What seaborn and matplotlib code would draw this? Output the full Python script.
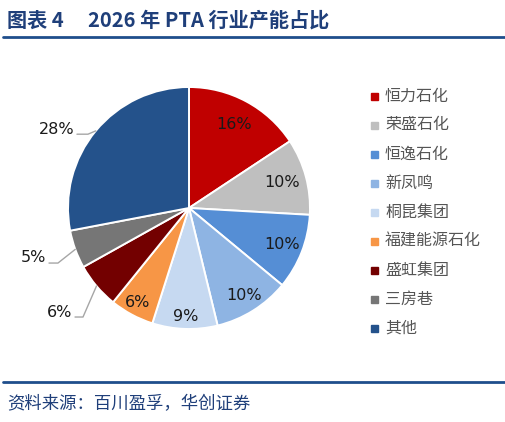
import numpy as np
import matplotlib
matplotlib.use("Agg")
import matplotlib.pyplot as plt
import seaborn as sns

categories = ["恒力石化", "荣盛石化", "恒逸石化", "新凤鸣", "桐昆集团",
              "福建能源石化", "盛虹集团", "三房巷", "其他"]
shares = [15.7, 10.2, 10.1, 10.2, 8.7, 5.9, 6.1, 5.1, 28.0]
colors = ["#C00000", "#BFBFBF", "#558ED5", "#8EB4E3", "#C6D9F1",
          "#F79646", "#730000", "#767676", "#24528B"]

title_left = "图表 4"
title_right = "2026 年 PTA 行业产能占比"
source_text = "资料来源：百川盈孚，华创证券"

sns.set_theme(style="white")
plt.rcParams["font.family"] = ["Noto Sans CJK SC", "DejaVu Sans"]

W, H = 505, 422
fig = plt.figure(figsize=(W / 100, H / 100), dpi=100)
fig.patch.set_facecolor("white")

cx, cy, R = 189, 208, 121
ax = fig.add_axes([(cx - R) / W, (H - cy - R) / H, 2 * R / W, 2 * R / H])

wedges, _ = ax.pie(shares, colors=colors, startangle=90, counterclock=False,
                   radius=1.0,
                   wedgeprops=dict(edgecolor="white", linewidth=1.4))
ax.set_xlim(-1, 1)
ax.set_ylim(-1, 1)
ax.set_aspect("equal")
ax.axis("off")

# inside label radial distances (layout)
inside_r = [0.78, 0.80, 0.83, 0.85, 0.90, 0.89]
# outside label layouts: index -> (elbow, line end x, text x, text y)
outside = {
    6: ((-0.876, -0.901), -0.942, -0.967, -0.86),
    7: ((-1.083, -0.455), -1.157, -1.18, -0.413),
    8: ((-0.835, 0.61), -0.926, -0.95, 0.645),
}
for i, (w, v) in enumerate(zip(wedges, shares)):
    mid = np.deg2rad((w.theta1 + w.theta2) / 2)
    lab = f"{v:.0f}%"
    if i < len(inside_r):
        r = inside_r[i]
        ax.text(r * np.cos(mid), r * np.sin(mid), lab, ha="center", va="center",
                fontsize=11.5, color="#1a1a1a", family=["DejaVu Sans"])
    else:
        (ex, ey), lx, tx, ty = outside[i]
        px, py = np.cos(mid), np.sin(mid)
        ax.plot([px, ex, lx], [py, ey, ey], color="#A6A6A6", lw=1.0,
                clip_on=False)
        ax.text(tx, ty, lab, ha="right", va="center", fontsize=11.5,
                color="#1a1a1a", family=["DejaVu Sans"])

# legend
for i, (c, name) in enumerate(zip(colors, categories)):
    y = 96 + i * 29
    fig.patches.append(plt.Rectangle((371 / W, (H - y - 3.5) / H), 7 / W, 7 / H,
                                     transform=fig.transFigure, color=c))
    fig.text(385 / W, (H - y) / H, name, ha="left", va="center",
             fontsize=11.5, color="#555555")

# title & rules
fig.text(7 / W, (H - 20) / H, title_left, ha="left", va="center",
         fontsize=14.5, fontweight="bold", color="#1F3F7A")
fig.text(88 / W, (H - 20) / H, title_right, ha="left", va="center",
         fontsize=14.5, fontweight="bold", color="#1F3F7A")
fig.add_artist(plt.Line2D([3 / W, 505 / W], [(H - 37) / H] * 2,
                          color="#1F4E8C", lw=2.0))
fig.add_artist(plt.Line2D([3 / W, 505 / W], [(H - 382) / H] * 2,
                          color="#1F4E8C", lw=2.0))
fig.text(7 / W, (H - 404) / H, source_text, ha="left", va="center",
         fontsize=12.5, color="#1F3F7A", style="italic")

fig.savefig("out.png", dpi=100, facecolor="white")
